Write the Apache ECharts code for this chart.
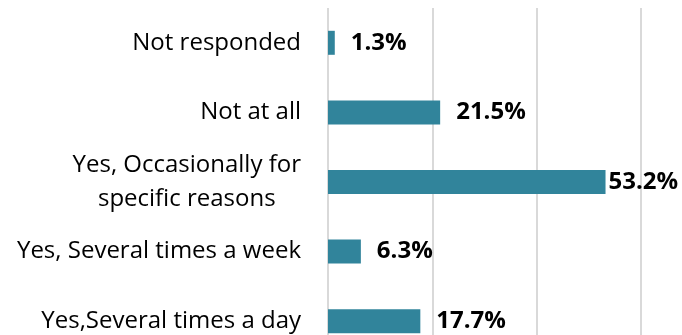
<!DOCTYPE html>
<html>
<head>
<meta charset="utf-8">
<script src="https://cdn.jsdelivr.net/npm/echarts@6/dist/echarts.min.js"></script>
<style>
  html, body { margin: 0; padding: 0; background: #ffffff; overflow: hidden; }
  /* the drawing runs a little below the visible window, so the lowest band is cut */
  #chart { width: 682px; height: 356px; }
</style>
</head>
<body>
<div id="chart"></div>
<script>
// Survey answers, listed bottom to top as the category axis draws them
var categories = [
  'Yes,Several times a day',
  'Yes, Several times a week',
  'Yes, Occasionally for\nspecific reasons',
  'Not at all',
  'Not responded'
];
var shares = [17.7, 6.3, 53.2, 21.5, 1.3];
var axisTicks = [0, 20, 40, 60];

var FONT = 'Open Sans';
var BAR = '#31849B';

var chart = echarts.init(document.getElementById('chart'), null, { renderer: 'canvas' });

chart.setOption({
  animation: false,
  grid: { left: 328, top: 8, right: 41, bottom: 0, containLabel: false },
  xAxis: {
    type: 'value',
    min: axisTicks[0],
    max: axisTicks[axisTicks.length - 1],
    interval: axisTicks[1] - axisTicks[0],
    axisLabel: { show: false },
    axisLine: { show: false },
    axisTick: { show: false },
    splitLine: { show: true, lineStyle: { color: '#d9d9d9', width: 2 } }
  },
  yAxis: {
    type: 'category',
    data: categories,
    axisLine: { show: false },
    axisTick: { show: false },
    axisLabel: {
      margin: 27,
      color: '#000000',
      fontFamily: FONT,
      fontSize: 24,
      lineHeight: 34,
      formatter: function (v) {
        return v.split('\n').map(function (l) { return '{c|' + l + '}'; }).join('\n');
      },
      rich: {
        c: { align: 'center', fontFamily: FONT, fontSize: 24, lineHeight: 34, color: '#000000' }
      }
    }
  },
  series: [{
    type: 'bar',
    barWidth: 24,
    itemStyle: { color: BAR },
    data: shares.map(function (v) {
      return {
        value: v,
        label: { distance: v > 50 ? 3 : 16 }
      };
    }),
    label: {
      show: true,
      position: 'right',
      color: '#000000',
      fontFamily: FONT,
      fontWeight: 'bold',
      fontSize: 24,
      formatter: function (p) { return p.value.toFixed(1) + '%'; }
    }
  }]
});
</script>
</body>
</html>
